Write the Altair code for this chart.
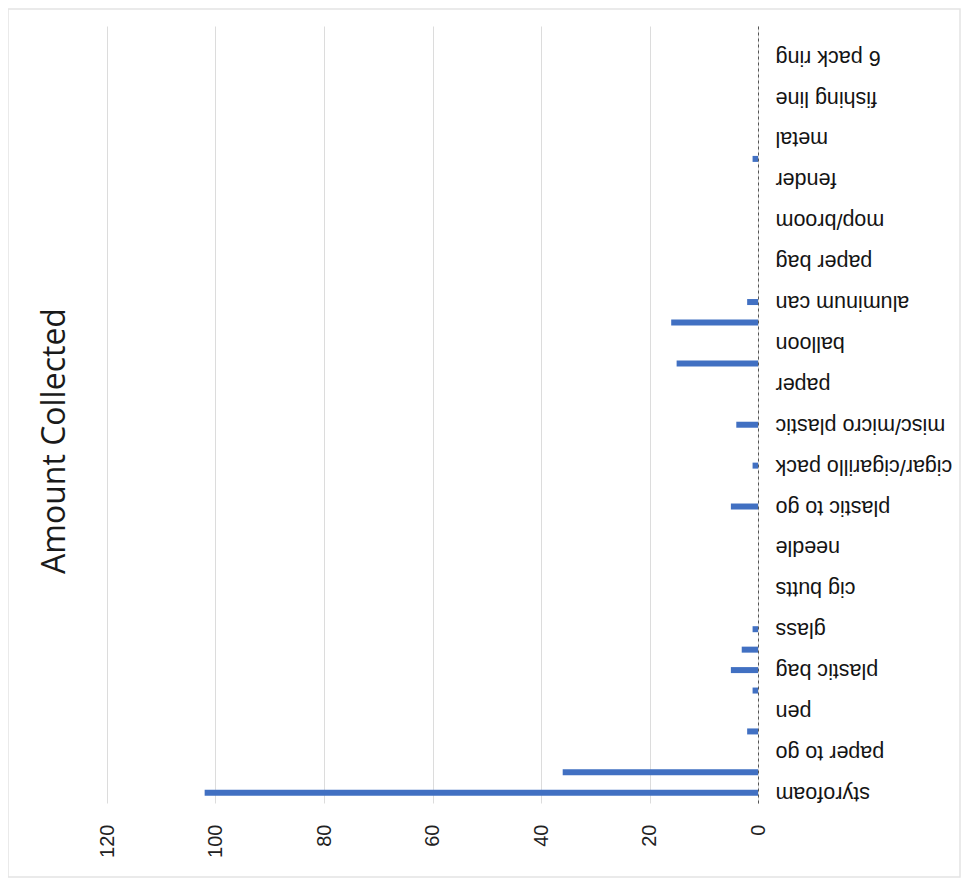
import json
import altair as alt
import pandas as pd

# Category labels shown on the axis (every other category is shown, as in the source)
shown_labels = [
    "styrofoam", "paper to go", "pen", "plastic bag", "glass", "cig butts",
    "needle", "plastic to go", "cigar/cigarillo pack", "misc/micro plastic",
    "paper", "balloon", "aluminum can", "paper bag", "mop/broom", "fender",
    "metal", "fishing line", "6 pack ring",
]
# Amounts for the labelled categories
shown_values = [102, 0, 0, 5, 1, 0, 0, 5, 1, 4, 0, 0, 2, 0, 0, 0, 0, 0, 0]
# Amounts for the unlabelled category that follows each labelled one
between_values = [36, 2, 1, 3, 0, 0, 0, 0, 0, 0, 15, 16, 0, 0, 0, 1, 0, 0, 0]

title_text = "Amount Collected"
x_ticks = [0, 20, 40, 60, 80, 100, 120]

rows = []
for i, (v, w) in enumerate(zip(shown_values, between_values)):
    rows.append({"slot": 2 * i, "value": v})
    rows.append({"slot": 2 * i + 1, "value": w})
df = pd.DataFrame(rows)
n_slots = len(df)
bars_df = df[df["value"] > 0]

label_arr = "[" + ",".join(json.dumps(l) for l in shown_labels) + "]"
label_expr = f"datum.value % 2 == 0 ? {label_arr}[datum.value / 2] : ''"

W, H = 651, 777

bars = alt.Chart(bars_df).mark_bar(size=6, color="#4170c2").encode(
    x=alt.X(
        "value:Q",
        scale=alt.Scale(domain=[0, 120], reverse=True, nice=False),
        axis=alt.Axis(
            orient="bottom", values=x_ticks, grid=True, gridColor="#dcdcdc",
            gridWidth=1, domain=False, ticks=False, labelAngle=270,
            labelFontSize=20, labelFont="Liberation Sans", labelColor="#222222",
            labelPadding=21, title=None,
        ),
    ),
    y=alt.Y(
        "slot:O",
        scale=alt.Scale(domain=list(range(n_slots - 1, -1, -1)), paddingInner=0, paddingOuter=0),
        axis=alt.Axis(
            orient="right", labelExpr=label_expr, labelAngle=180, labelAlign="right",
            labelBaseline="middle", labelFontSize=21.5, labelFont="Liberation Sans",
            labelColor="#141414", labelPadding=17, ticks=False, domain=True,
            domainColor="#555555", domainDash=[3, 3], domainWidth=1, grid=False,
            title=None,
        ),
    ),
)

tdf = pd.DataFrame({"t": [title_text]})
title = alt.Chart(tdf).mark_text(
    angle=270, align="center", baseline="alphabetic", fontSize=32,
    font="Open Sans", color="#1a1a1a",
).encode(text="t:N", x=alt.value(-42), y=alt.value(415))

frame = alt.Chart(tdf).mark_rect(fillOpacity=0, stroke="#e4e4e4", strokeWidth=1.5).encode(
    x=alt.value(-99), x2=alt.value(853), y=alt.value(-17), y2=alt.value(851)
)

chart = alt.layer(frame, bars, title).properties(
    width=W, height=H,
    autosize=alt.AutoSizeParams(type="none"),
    padding={"left": 99, "top": 18, "right": 203, "bottom": 75},
    background="white",
).configure_view(stroke=None)

chart.save("out.html", embed_options={"renderer": "svg", "actions": False})
